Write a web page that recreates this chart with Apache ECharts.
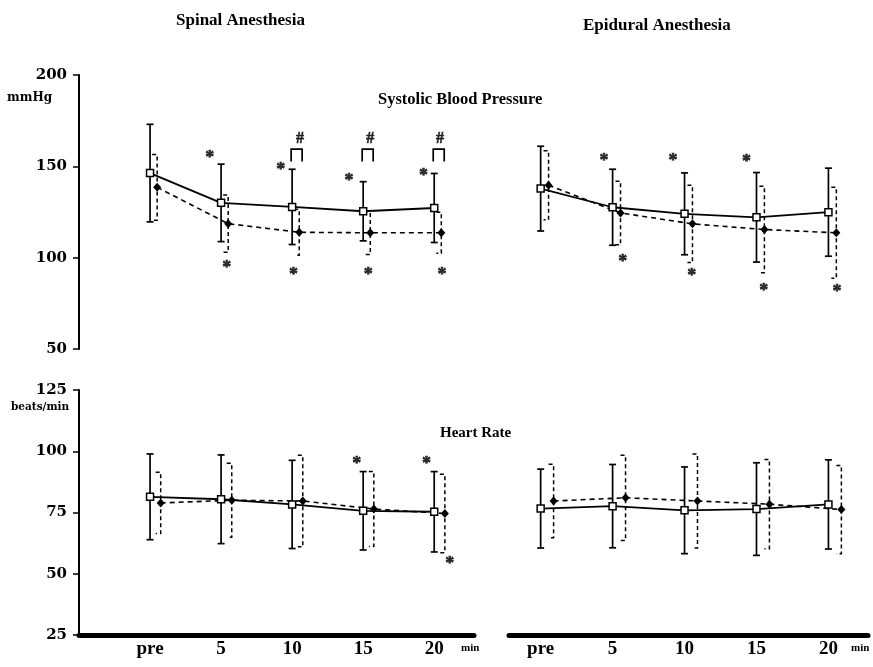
<!DOCTYPE html>
<html>
<head>
<meta charset="utf-8">
<script src="https://cdn.jsdelivr.net/npm/echarts@6/dist/echarts.min.js"></script>
<style>
html, body { margin: 0; padding: 0; background: #fff; }
#chart { width: 873px; height: 667px; }
</style>
</head>
<body>
<div id="chart"></div>
<script>
const timeLabels = ['pre', '5', '10', '15', '20'];

// systolic blood pressure (mmHg); A = open squares / solid line, B = filled diamonds / dashed line
const spinalSbpMeanA = [146.3, 130.0, 127.8, 125.4, 127.2];
const spinalSbpSdA = [26.7, 21.2, 20.6, 16.2, 18.9];
const spinalSbpMeanB = [138.5, 118.6, 113.9, 113.6, 113.6];
const spinalSbpSdB = [18.0, 15.7, 12.6, 11.9, 11.2];

const epiduralSbpMeanA = [137.8, 127.6, 124.0, 122.1, 124.9];
const epiduralSbpSdA = [23.2, 20.8, 22.4, 24.5, 24.1];
const epiduralSbpMeanB = [139.6, 124.5, 118.5, 115.4, 113.6];
const epiduralSbpSdB = [18.9, 17.4, 21.2, 23.7, 24.9];

// heart rate (beats/min)
const spinalHrMeanA = [81.4, 80.4, 78.3, 75.7, 75.3];
const spinalHrSdA = [17.5, 18.1, 18.0, 16.0, 16.4];
const spinalHrMeanB = [78.9, 80.0, 79.7, 76.4, 74.6];
const spinalHrSdB = [12.5, 15.1, 18.7, 15.3, 16.0];

const epiduralHrMeanA = [76.6, 77.6, 75.9, 76.4, 78.3];
const epiduralHrSdA = [16.1, 17.0, 17.7, 18.9, 18.2];
const epiduralHrMeanB = [79.7, 81.0, 79.7, 78.4, 76.2];
const epiduralHrSdB = [15.0, 17.4, 19.2, 18.2, 18.0];

// significance marks: [time position, value]
const spinalSbpStars = [[0.84, 156.3], [1.08, 96.2], [1.84, 150.0], [2.02, 92.6], [2.80, 144.0], [3.07, 92.6], [3.85, 146.9], [4.11, 92.6]];
const spinalSbpHashes = [[2.11, 165.0], [3.10, 165.0], [4.08, 165.0]];
const spinalSbpBrackets = [[2, 159.4, 152.7], [3, 159.4, 152.7], [4, 159.4, 152.7]];
const epiduralSbpStars = [[0.88, 154.9], [1.14, 99.9], [1.84, 154.9], [2.10, 91.7], [2.86, 154.5], [3.10, 83.5], [4.12, 83.1]];
const spinalHrStars = [[2.91, 96.3], [3.89, 96.3], [4.22, 55.6]];

const serif = 'Liberation Serif';
const wideSerif = 'DejaVu Serif';

function barRender(dashed) {
  return function (params, api) {
    const x = api.value(0);
    const lo = api.coord([x, api.value(1)]);
    const hi = api.coord([x, api.value(2)]);
    if (dashed) {
      return {
        type: 'polyline',
        shape: { points: [[hi[0] - 5, hi[1]], [hi[0], hi[1]], [lo[0], lo[1]], [lo[0] - 5, lo[1]]] },
        style: { stroke: '#000', fill: null, lineWidth: 1.5, lineDash: [4, 3] }
      };
    }
    const st = { stroke: '#000', lineWidth: 1.7 };
    return {
      type: 'group',
      children: [
        { type: 'line', shape: { x1: lo[0], y1: lo[1], x2: hi[0], y2: hi[1] }, style: st },
        { type: 'line', shape: { x1: lo[0] - 3.5, y1: lo[1], x2: lo[0] + 3.5, y2: lo[1] }, style: st },
        { type: 'line', shape: { x1: hi[0] - 3.5, y1: hi[1], x2: hi[0] + 3.5, y2: hi[1] }, style: st }
      ]
    };
  };
}

function bracketRender(params, api) {
  const top = api.coord([api.value(0), api.value(1)]);
  const bot = api.coord([api.value(0), api.value(2)]);
  const x0 = top[0] - 1, x1 = top[0] + 10;
  return {
    type: 'polyline',
    shape: { points: [[x0, bot[1]], [x0, top[1]], [x1, top[1]], [x1, bot[1]]] },
    style: { stroke: '#000', fill: null, lineWidth: 1.7 }
  };
}

function panelSeries(g, meanA, sdA, meanB, sdB, offB) {
  return [
    {
      type: 'custom', xAxisIndex: g, yAxisIndex: g, silent: true, z: 2,
      renderItem: barRender(false), encode: { x: 0, y: [1, 2] },
      data: meanA.map((m, i) => [i, m - sdA[i], m + sdA[i]])
    },
    {
      type: 'custom', xAxisIndex: g, yAxisIndex: g, silent: true, z: 2,
      renderItem: barRender(true), encode: { x: 0, y: [1, 2] },
      data: meanB.map((m, i) => [i + offB, m - sdB[i], m + sdB[i]])
    },
    {
      type: 'line', xAxisIndex: g, yAxisIndex: g, silent: true, z: 3,
      data: meanB.map((m, i) => [i + offB, m]),
      symbol: 'diamond', symbolSize: [8, 9],
      itemStyle: { color: '#000' },
      lineStyle: { color: '#000', width: 1.6, type: [5, 4] }
    },
    {
      type: 'line', xAxisIndex: g, yAxisIndex: g, silent: true, z: 4,
      data: meanA.map((m, i) => [i, m]),
      symbol: 'rect', symbolSize: 7, showAllSymbol: true,
      itemStyle: { color: '#fff', borderColor: '#000', borderWidth: 1.5 },
      lineStyle: { color: '#000', width: 1.8 }
    }
  ];
}

function markSeries(g, pts, txt, size, dy) {
  return {
    type: 'scatter', xAxisIndex: g, yAxisIndex: g, silent: true, z: 5,
    data: pts, symbolSize: 1, itemStyle: { color: 'rgba(0,0,0,0)' },
    label: {
      show: true, position: 'inside', formatter: txt, offset: [0, dy],
      color: '#000', fontFamily: serif, fontWeight: 'bold', fontSize: size,
      textBorderColor: '#000', textBorderWidth: 0.6
    }
  };
}

const yLabel = { color: '#000', fontFamily: wideSerif, fontWeight: 'bold', fontSize: 15, margin: 12, showMinLabel: true, showMaxLabel: true };
const yLine = { show: true, onZero: false, lineStyle: { color: '#000', width: 2 } };
const yTick = { show: true, length: 6, lineStyle: { color: '#000', width: 1.5 } };

function xBottom(g, min, max) {
  return {
    type: 'value', gridIndex: g, min: min, max: max,
    axisLine: { show: true, onZero: false, lineStyle: { color: '#000', width: 5 } },
    axisTick: { show: false },
    splitLine: { show: false },
    axisLabel: {
      customValues: [0, 1, 2, 3, 4],
      formatter: v => timeLabels[Math.round(v)],
      color: '#000', fontFamily: serif, fontWeight: 'bold', fontSize: 19, margin: 5
    }
  };
}

const chart = echarts.init(document.getElementById('chart'));
chart.setOption({
  animation: false,
  backgroundColor: '#fff',
  grid: [
    { left: 79, top: 75, width: 395, height: 274 },
    { left: 509, top: 75, width: 359, height: 274 },
    { left: 79, top: 390, width: 395, height: 245 },
    { left: 509, top: 390, width: 359, height: 245 }
  ],
  xAxis: [
    { type: 'value', gridIndex: 0, min: -1, max: 4.56, show: false },
    { type: 'value', gridIndex: 1, min: -0.44, max: 4.55, show: false },
    xBottom(2, -1, 4.56),
    xBottom(3, -0.44, 4.55)
  ],
  yAxis: [
    { type: 'value', gridIndex: 0, min: 50, max: 200, interval: 50, axisLine: yLine, axisTick: yTick, axisLabel: yLabel, splitLine: { show: false } },
    { type: 'value', gridIndex: 1, min: 50, max: 200, show: false },
    { type: 'value', gridIndex: 2, min: 25, max: 125, interval: 25, axisLine: yLine, axisTick: yTick, axisLabel: yLabel, splitLine: { show: false } },
    { type: 'value', gridIndex: 3, min: 25, max: 125, show: false }
  ],
  graphic: [
    { type: 'text', left: 176, top: 12, style: { text: 'Spinal Anesthesia', fill: '#000', font: 'bold 17px "Liberation Serif"' } },
    { type: 'text', left: 583, top: 17, style: { text: 'Epidural Anesthesia', fill: '#000', font: 'bold 17px "Liberation Serif"' } },
    { type: 'text', left: 378, top: 91, style: { text: 'Systolic Blood Pressure', fill: '#000', font: 'bold 16.5px "Liberation Serif"' } },
    { type: 'text', left: 440, top: 426, style: { text: 'Heart Rate', fill: '#000', font: 'bold 15px "Liberation Serif"' } },
    { type: 'text', left: 7, top: 92, style: { text: 'mmHg', fill: '#000', font: 'bold 12px "DejaVu Serif"' } },
    { type: 'text', left: 11, top: 402, style: { text: 'beats/min', fill: '#000', font: 'bold 10.5px "DejaVu Serif"' } },
    { type: 'text', left: 461, top: 643, style: { text: 'min', fill: '#000', font: 'bold 11px "Liberation Serif"' } },
    { type: 'text', left: 851, top: 643, style: { text: 'min', fill: '#000', font: 'bold 11px "Liberation Serif"' } }
  ],
  series: [].concat(
    panelSeries(0, spinalSbpMeanA, spinalSbpSdA, spinalSbpMeanB, spinalSbpSdB, 0.1),
    panelSeries(1, epiduralSbpMeanA, epiduralSbpSdA, epiduralSbpMeanB, epiduralSbpSdB, 0.11),
    panelSeries(2, spinalHrMeanA, spinalHrSdA, spinalHrMeanB, spinalHrSdB, 0.15),
    panelSeries(3, epiduralHrMeanA, epiduralHrSdA, epiduralHrMeanB, epiduralHrSdB, 0.18),
    [
      markSeries(0, spinalSbpStars, '*', 18, 4),
      markSeries(0, spinalSbpHashes, '#', 16, 0),
      {
        type: 'custom', xAxisIndex: 0, yAxisIndex: 0, silent: true, z: 5,
        renderItem: bracketRender, encode: { x: 0, y: [1, 2] },
        data: spinalSbpBrackets
      },
      markSeries(1, epiduralSbpStars, '*', 18, 4),
      markSeries(2, spinalHrStars, '*', 18, 4)
    ]
  )
});
</script>
</body>
</html>
